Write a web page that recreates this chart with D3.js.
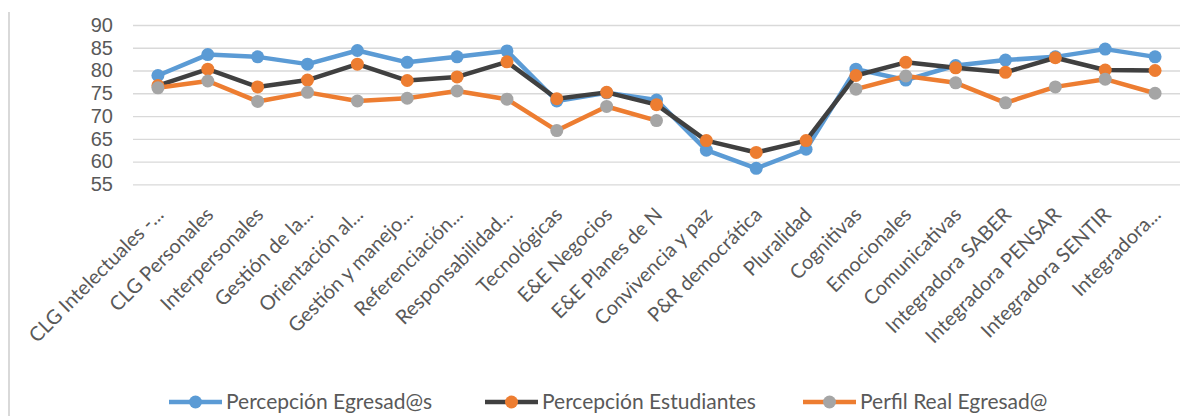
<!DOCTYPE html>
<html>
<head>
<meta charset="utf-8">
<script src="https://cdn.jsdelivr.net/npm/d3@7.9.0/dist/d3.min.js"></script>
<style>
  html, body { margin: 0; padding: 0; background: #fff; }
  svg { display: block; font-family: Lato, "Open Sans", sans-serif; }
</style>
</head>
<body>
<svg id="chart" width="1194" height="416"></svg>
<script>
/* ──── data ──── */
const categories = [
  'CLG Intelectuales -...', 'CLG Personales', 'Interpersonales', 'Gestión de la...',
  'Orientación al...', 'Gestión y manejo...', 'Referenciación...', 'Responsabilidad...',
  'Tecnológicas', 'E&E Negocios', 'E&E Planes de N', 'Convivencia y paz',
  'P&R democrática', 'Pluralidad', 'Cognitivas', 'Emocionales', 'Comunicativas',
  'Integradora SABER', 'Integradora PENSAR', 'Integradora SENTIR', 'Integradora...'
];

const egresados   = [78.9, 83.5, 83.0, 81.4, 84.4, 81.8, 83.0, 84.3, 73.3, 75.1, 73.5,
                     62.5, 58.5, 62.7, 80.3, 77.9, 81.1, 82.3, 83.0, 84.7, 83.0];
const estudiantes = [76.7, 80.3, 76.4, 77.9, 81.4, 77.8, 78.6, 81.9, 73.8, 75.2, 72.5,
                     64.6, 62.0, 64.6, 78.9, 81.8, 80.6, 79.6, 82.8, 80.1, 80.0];
const perfilReal  = [76.2, 77.7, 73.2, 75.2, 73.3, 73.9, 75.5, 73.7, 66.8, 72.1, 69.0,
                     null, null, null, 75.9, 78.8, 77.3, 72.9, 76.4, 78.1, 75.0];

const yTicks = [55, 60, 65, 70, 75, 80, 85, 90];

const series = [
  { name: 'Percepción Egresad@s',   values: egresados,   line: '#5B9BD5', marker: '#5B9BD5' },
  { name: 'Percepción Estudiantes', values: estudiantes, line: '#404040', marker: '#ED7D31' },
  { name: 'Perfil Real Egresad@',   values: perfilReal,  line: '#ED7D31', marker: '#A5A5A5' }
];

/* ──── layout ──── */
const svg    = d3.select('#chart');
const plot   = { left: 133, right: 1180, top: 25, bottom: 184.3 };

const xScale = d3.scaleBand()
  .domain(categories)
  .range([plot.left, plot.right]);

const yScale = d3.scaleLinear()
  .domain([55, 90])
  .range([plot.bottom, plot.top]);

const cx = d => xScale(d) + xScale.bandwidth() / 2;

/* left frame line */
svg.append('line')
   .attr('x1', 9).attr('x2', 9)
   .attr('y1', 12).attr('y2', 416)
   .attr('stroke', '#D9D9D9')
   .attr('stroke-width', 2);

/* ──── y axis + grid ──── */
const yAxis = svg.append('g')
  .attr('class', 'y-axis')
  .attr('transform', `translate(${plot.left},0)`)
  .call(d3.axisLeft(yScale).tickValues(yTicks).tickSize(plot.left - plot.right).tickPadding(20));

yAxis.select('.domain').remove();
yAxis.selectAll('.tick line').attr('stroke', '#D9D9D9').attr('stroke-width', 1.3);
yAxis.selectAll('.tick text')
     .attr('fill', '#595959')
     .style('font-size', '20px');

/* ──── x labels ──── */
svg.append('g')
   .attr('class', 'x-labels')
   .selectAll('text')
   .data(categories)
   .join('text')
   .attr('transform', d => `translate(${cx(d) + 2},${211}) rotate(-45)`)
   .attr('text-anchor', 'end')
   .attr('dy', '0.35em')
   .attr('fill', '#595959')
   .style('font-size', '20px')
   .text(d => d);

/* ──── lines + markers ──── */
const line = d3.line()
  .defined(d => d.v != null)
  .x(d => cx(d.c))
  .y(d => yScale(d.v));

series.forEach(s => {
  const pts = categories.map((c, i) => ({ c, v: s.values[i] }));
  const g   = svg.append('g');

  g.append('path')
   .datum(pts)
   .attr('d', line)
   .attr('fill', 'none')
   .attr('stroke', s.line)
   .attr('stroke-width', 4.5)
   .attr('stroke-linejoin', 'round');

  g.selectAll('circle')
   .data(pts.filter(d => d.v != null))
   .join('circle')
   .attr('cx', d => cx(d.c))
   .attr('cy', d => yScale(d.v))
   .attr('r', 6.5)
   .attr('fill', s.marker);
});

/* ──── legend ──── */
const legendX = [169, 485, 803];
const legend  = svg.append('g').attr('class', 'legend');

series.forEach((s, i) => {
  const g = legend.append('g').attr('transform', `translate(${legendX[i]},402)`);
  g.append('line')
   .attr('x1', 0).attr('x2', 53)
   .attr('stroke', s.line)
   .attr('stroke-width', 4.5);
  g.append('circle')
   .attr('cx', 26.5).attr('r', 6.5)
   .attr('fill', s.marker);
  g.append('text')
   .attr('x', 57)
   .attr('dy', '0.35em')
   .attr('fill', '#595959')
   .style('font-size', '21px')
   .text(s.name);
});
</script>
</body>
</html>
